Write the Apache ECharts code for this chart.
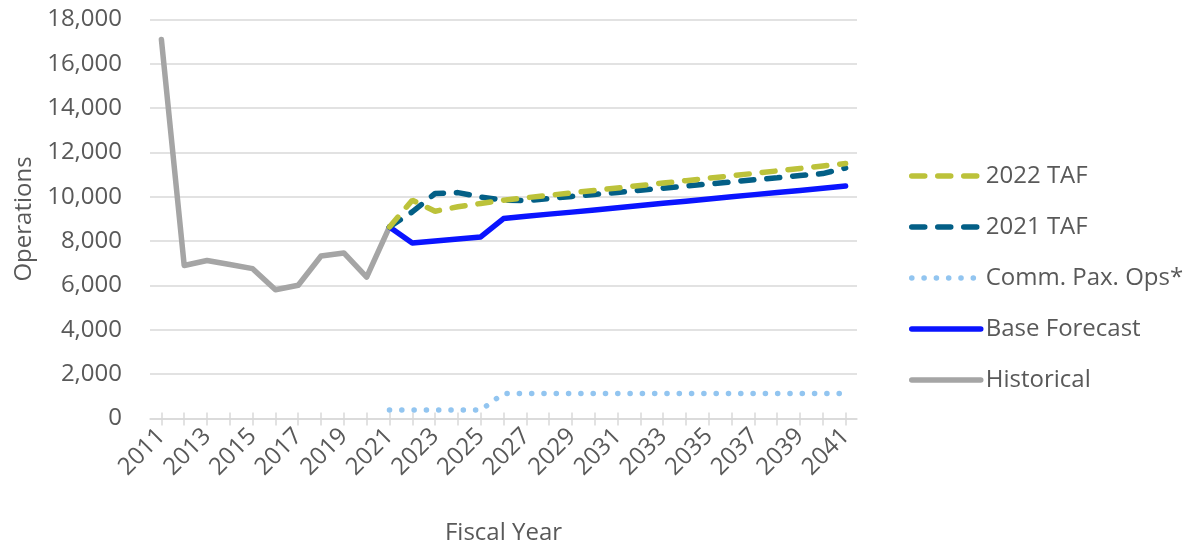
<!DOCTYPE html>
<html>
<head>
<meta charset="utf-8">
<script src="https://cdn.jsdelivr.net/npm/echarts@6/dist/echarts.min.js"></script>
<style>html,body{margin:0;padding:0;background:#fff}#c{width:1193px;height:546px}</style>
</head>
<body>
<div id="c"></div>
<script>
const histYears = [2011,2012,2013,2014,2015,2016,2017,2018,2019,2020,2021];
const historical = [17100,6900,7130,6950,6760,5810,6010,7330,7470,6380,8640];

const fcYears = [2021,2022,2023,2024,2025,2026,2027,2028,2029,2030,2031,2032,2033,2034,2035,2036,2037,2038,2039,2040,2041];
const baseForecast = [8640,7920,8010,8100,8190,9020,9120,9220,9310,9410,9510,9610,9710,9800,9900,10000,10100,10200,10290,10390,10490];
const taf2022 = [8640,9850,9350,9550,9700,9850,9960,10070,10180,10290,10400,10510,10620,10730,10840,10950,11060,11170,11280,11390,11500];
const taf2021 = [8640,9320,10150,10190,9990,9850,9830,9920,10020,10110,10200,10300,10390,10490,10580,10670,10770,10860,10960,11050,11300];
const commPax = [380,380,380,380,380,1130,1130,1130,1130,1130,1130,1130,1130,1130,1130,1130,1130,1130,1130,1130,1130];

const tickYears = [];
for (let y = 2011; y <= 2041; y++) tickYears.push(y);
const labelYears = tickYears.filter(y => (y - 2011) % 2 === 0);

const pair = (xs, vs) => xs.map((x, i) => [x, vs[i]]);

const FONT = '"Open Sans", "Noto Sans", sans-serif';
const TXT = '#595959';
const GRID = '#d9d9d9';
const LW = 5.5;

const styles = {
  'Historical': {color: '#a5a5a5', width: LW, type: 'solid', cap: 'round', join: 'round'},
  'Base Forecast': {color: '#0a14ff', width: LW, type: 'solid', cap: 'round', join: 'round'},
  'Comm. Pax. Ops*': {color: '#92c5f0', width: LW, type: [0.1, 12.2], cap: 'round'},
  '2021 TAF': {color: '#035f86', width: LW, type: [13, 13], cap: 'round'},
  '2022 TAF': {color: '#bcc23a', width: LW, type: [13, 13], cap: 'round'}
};
const legendOrder = ['2022 TAF', '2021 TAF', 'Comm. Pax. Ops*', 'Base Forecast', 'Historical'];

const mk = (name, xs, vs, z) => ({
  name, type: 'line', symbol: 'none', showSymbol: false, z,
  data: pair(xs, vs),
  lineStyle: styles[name],
  itemStyle: {color: styles[name].color}
});

const chart = echarts.init(document.getElementById('c'), null, {renderer: 'canvas'});
chart.setOption({
  animation: false,
  backgroundColor: '#fff',
  textStyle: {fontFamily: FONT},
  grid: {left: 150, right: 336, top: 19.5, bottom: 127.5, containLabel: false, outerBoundsMode: 'none'},
  legend: {
    orient: 'vertical',
    left: 904,
    top: 159,
    itemWidth: 69,
    itemHeight: 20,
    itemGap: 27,
    itemStyle: {opacity: 0},
    data: legendOrder.map(n => ({name: n, itemStyle: {opacity: 0}, lineStyle: Object.assign({}, styles[n])})),
    textStyle: {fontFamily: FONT, fontSize: 24, color: TXT}
  },
  xAxis: [{
    type: 'value',
    min: 2010.5,
    max: 2041.5,
    name: 'Fiscal Year',
    nameLocation: 'middle',
    nameGap: 103,
    nameTextStyle: {fontFamily: FONT, fontSize: 24, color: TXT},
    splitLine: {show: false},
    axisLine: {show: true, lineStyle: {color: GRID, width: 1.5}},
    axisTick: {show: true, length: 7, customValues: tickYears, lineStyle: {color: GRID, width: 1.5}},
    axisLabel: {
      customValues: labelYears,
      rotate: 45,
      margin: 14,
      fontFamily: FONT, fontSize: 24, color: TXT,
      formatter: v => String(v)
    }
  }, {
    type: 'value',
    min: 2010.5,
    max: 2041.5,
    position: 'bottom',
    splitLine: {show: false},
    axisLine: {show: false},
    axisTick: {show: true, inside: true, length: 6, customValues: tickYears, lineStyle: {color: GRID, width: 1.5}},
    axisLabel: {show: false}
  }],
  yAxis: {
    type: 'value',
    min: 0,
    max: 18000,
    interval: 2000,
    name: 'Operations',
    nameLocation: 'middle',
    nameGap: 114,
    nameTextStyle: {fontFamily: FONT, fontSize: 24, color: TXT},
    axisLine: {show: false},
    axisTick: {show: false},
    splitLine: {lineStyle: {color: GRID, width: 1.5}},
    axisLabel: {
      margin: 28,
      fontFamily: FONT, fontSize: 24, color: TXT,
      formatter: v => v.toLocaleString('en-US')
    }
  },
  series: [
    mk('Historical', histYears, historical, 2),
    mk('Base Forecast', fcYears, baseForecast, 3),
    mk('Comm. Pax. Ops*', fcYears, commPax, 3),
    mk('2021 TAF', fcYears, taf2021, 4),
    mk('2022 TAF', fcYears, taf2022, 4)
  ]
});
</script>
</body>
</html>
